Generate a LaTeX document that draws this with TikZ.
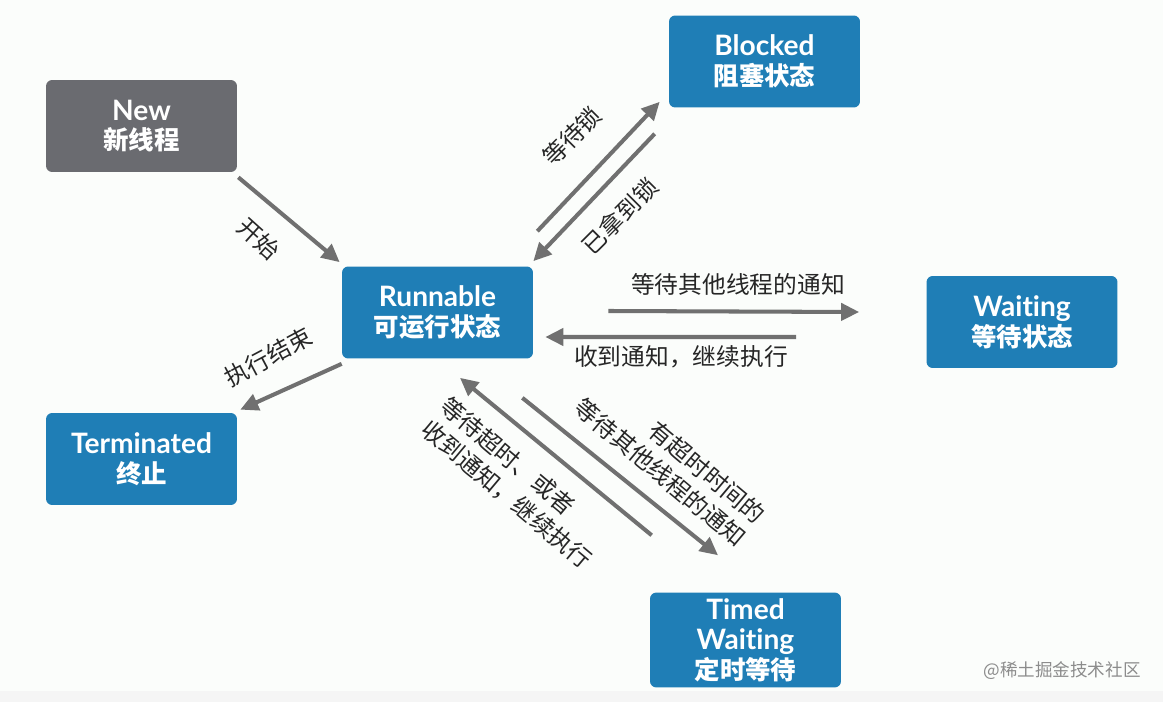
\documentclass[tikz,border=0pt]{standalone}
\usepackage{fontspec}
\setmainfont{Lato}[Ligatures=NoCommon]
\newfontfamily\cjk{Noto Sans CJK SC}
\usetikzlibrary{arrows.meta}
\definecolor{zblau}{RGB}{31,126,182}
\definecolor{zgrau}{RGB}{106,107,112}
\definecolor{pfeil}{RGB}{112,112,112}
\definecolor{grund}{RGB}{251,253,251}
\newcommand\zs[1]{{\cjk\fontsize{14.5}{17}\selectfont #1}}
\begin{document}
\begin{tikzpicture}[x=0.02cm,y=-0.02cm,
        state/.style ={fill=zblau, text=white, rounded corners=3.5pt, minimum width=3.82cm, minimum height=1.84cm,
                       align=center, font=\fontsize{16}{17}\selectfont\bfseries},
        stateg/.style={state, fill=zgrau},
        pf/.style    ={draw=pfeil, line width=2.3pt, -{Triangle[length=3.6mm,width=3.4mm]}},
        lbl/.style   ={font=\cjk\fontsize{13.5}{17}\selectfont, text=black!85, inner sep=0pt}]
    \fill[grund] (0,0) rectangle (1163,702);
    \fill[black!4] (0,691) rectangle (1163,702);
    \useasboundingbox (0,0) rectangle (1163,702);
    \node[stateg] (new)   at (141.5,126)  {New\\\zs{新线程}};
    \node[state]  (blk)   at (764.5,61.5) {Blocked\\\zs{阻塞状态}};
    \node[state]  (run)   at (437.5,312.5){Runnable\\\zs{可运行状态}};
    \node[state]  (wait)  at (1022,322)   {Waiting\\\zs{等待状态}};
    \node[state]  (term)  at (141.5,459)  {Terminated\\\zs{终止}};
    \node[state]  (timed) at (745.5,640)  {Timed\\Waiting\\\zs{定时等待}};
% Uebergaenge
    \draw[pf] ([shift={(1,5)}]new.south east)   -- ([shift={(-2,-4)}]run.north west);
    \draw[pf] ([shift={(0,5)}]run.south west)   -- ([shift={(3,-3)}]term.north east);
    \draw[pf] ([shift={(4,-35)}]run.north east) -- ([shift={(-9,-6)}]blk.south west);
    \draw[pf] ([shift={(-14,26)}]blk.south west)-- ([shift={(0,-5)}]run.north east);
    \draw[pf] ([shift={(75,-1.5)}]run.east)     -- ([shift={(-67,-10)}]wait.west);
    \draw[pf] ([shift={(-130,15)}]wait.west)    -- ([shift={(12,24.5)}]run.east);
    \draw[pf] ([shift={(-11,39)}]run.south east)-- ([shift={(-27.5,-37)}]timed.north);
    \draw[pf] ([shift={(2,-57)}]timed.north west)-- ([shift={(22.5,19)}]run.south);
    \node[lbl, rotate=-42] (l1) at (259,239) {开始};
    \node[lbl, rotate=28]  (l2) at (268,357) {执行结束};
    \node[lbl, rotate=45]  (l3) at (572,136) {等待锁};
    \node[lbl, rotate=45]  (l4) at (620,216) {已拿到锁};
    \node[lbl]             (l5) at (738,284) {等待其他线程的通知};
    \node[lbl]             (l6) at (681,357) {收到通知，继续执行};
    \node[lbl, rotate=-40, align=right] (l7) at (670,461) {有超时时间的\\等待其他线程的通知};
    \node[lbl, rotate=-40, align=left]  (l8) at (516,483) {等待超时、或者\\收到通知，继续执行};
    \node[lbl, font=\cjk\fontsize{10}{12}\selectfont, text=black!45] (wm) at (1062,671) {@稀土掘金技术社区};
\end{tikzpicture}
\end{document}
